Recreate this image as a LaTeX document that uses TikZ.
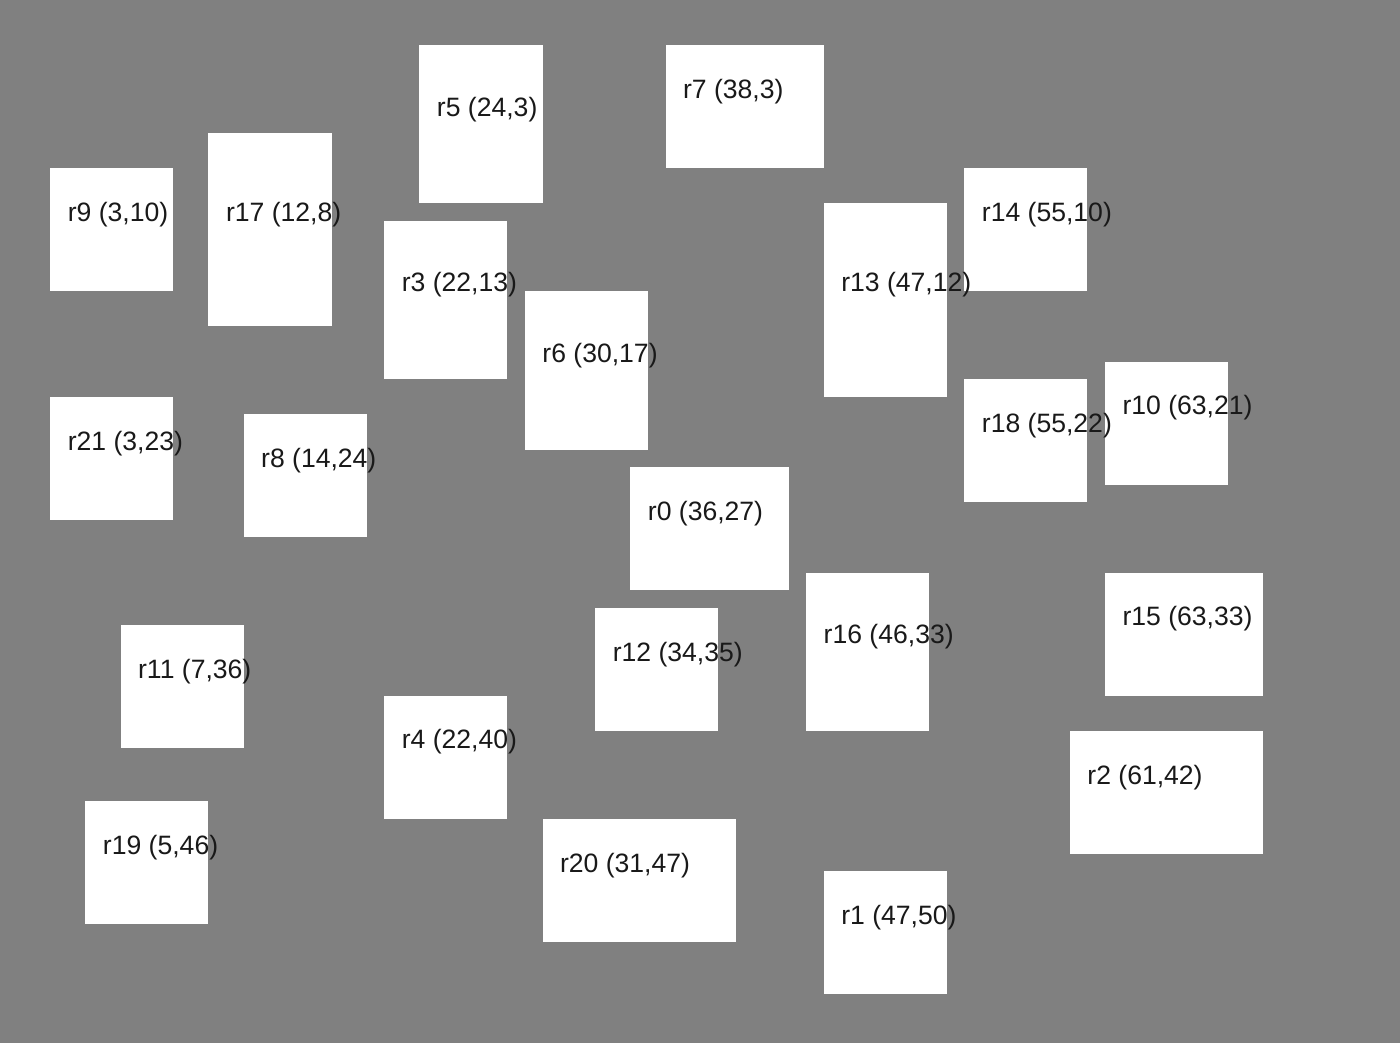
\documentclass[tikz,border=0pt]{standalone}
\usepackage{fontspec}
\setmainfont{Liberation Sans}
\usepackage{tikz}
\usetikzlibrary{positioning}
\definecolor{floorgray}{HTML}{808080}
\newcommand{\rlabel}[2]{\node[lab] (#1l) at ([xshift=14pt,yshift=6.6pt]#1.west) {#2};}

\begin{document}
\begin{tikzpicture}[
      x=0.5cm, y=-0.5cm,
      room/.style={fill=white, anchor=north west, inner sep=0, outer sep=0},
      s77/.style={room, minimum width=3.5cm, minimum height=3.5cm},
      s79/.style={room, minimum width=3.5cm, minimum height=4.5cm},
      s711/.style={room, minimum width=3.5cm, minimum height=5.5cm},
      s97/.style={room, minimum width=4.5cm, minimum height=3.5cm},
      s117/.style={room, minimum width=5.5cm, minimum height=3.5cm},
      lab/.style={anchor=base west, inner sep=0, text=black!90,
                  font={\fontsize{21.5}{24}\selectfont}}
  ]
  \fill[floorgray] (0.14,0.43) rectangle (79.78,59.76);
  \useasboundingbox (0.14,0.43) rectangle (79.78,59.76);
  % rooms
  \node[s97]  (r0)  at (36,27) {};
  \node[s77]  (r1)  at (47,50) {};
  \node[s117] (r2)  at (61,42) {};
  \node[s79]  (r3)  at (22,13) {};
  \node[s77]  (r4)  at (22,40) {};
  \node[s79]  (r5)  at (24,3)  {};
  \node[s79]  (r6)  at (30,17) {};
  \node[s97]  (r7)  at (38,3)  {};
  \node[s77]  (r8)  at (14,24) {};
  \node[s77]  (r9)  at (3,10)  {};
  \node[s77]  (r10) at (63,21) {};
  \node[s77]  (r11) at (7,36)  {};
  \node[s77]  (r12) at (34,35) {};
  \node[s711] (r13) at (47,12) {};
  \node[s77]  (r14) at (55,10) {};
  \node[s97]  (r15) at (63,33) {};
  \node[s79]  (r16) at (46,33) {};
  \node[s711] (r17) at (12,8)  {};
  \node[s77]  (r18) at (55,22) {};
  \node[s77]  (r19) at (5,46)  {};
  \node[s117] (r20) at (31,47) {};
  \node[s77]  (r21) at (3,23)  {};
  % labels
  \rlabel{r0}{r0 (36,27)}
  \rlabel{r1}{r1 (47,50)}
  \rlabel{r2}{r2 (61,42)}
  \rlabel{r3}{r3 (22,13)}
  \rlabel{r4}{r4 (22,40)}
  \rlabel{r5}{r5 (24,3)}
  \rlabel{r6}{r6 (30,17)}
  \rlabel{r7}{r7 (38,3)}
  \rlabel{r8}{r8 (14,24)}
  \rlabel{r9}{r9 (3,10)}
  \rlabel{r10}{r10 (63,21)}
  \rlabel{r11}{r11 (7,36)}
  \rlabel{r12}{r12 (34,35)}
  \rlabel{r13}{r13 (47,12)}
  \rlabel{r14}{r14 (55,10)}
  \rlabel{r15}{r15 (63,33)}
  \rlabel{r16}{r16 (46,33)}
  \rlabel{r17}{r17 (12,8)}
  \rlabel{r18}{r18 (55,22)}
  \rlabel{r19}{r19 (5,46)}
  \rlabel{r20}{r20 (31,47)}
  \rlabel{r21}{r21 (3,23)}
\end{tikzpicture}
\end{document}
